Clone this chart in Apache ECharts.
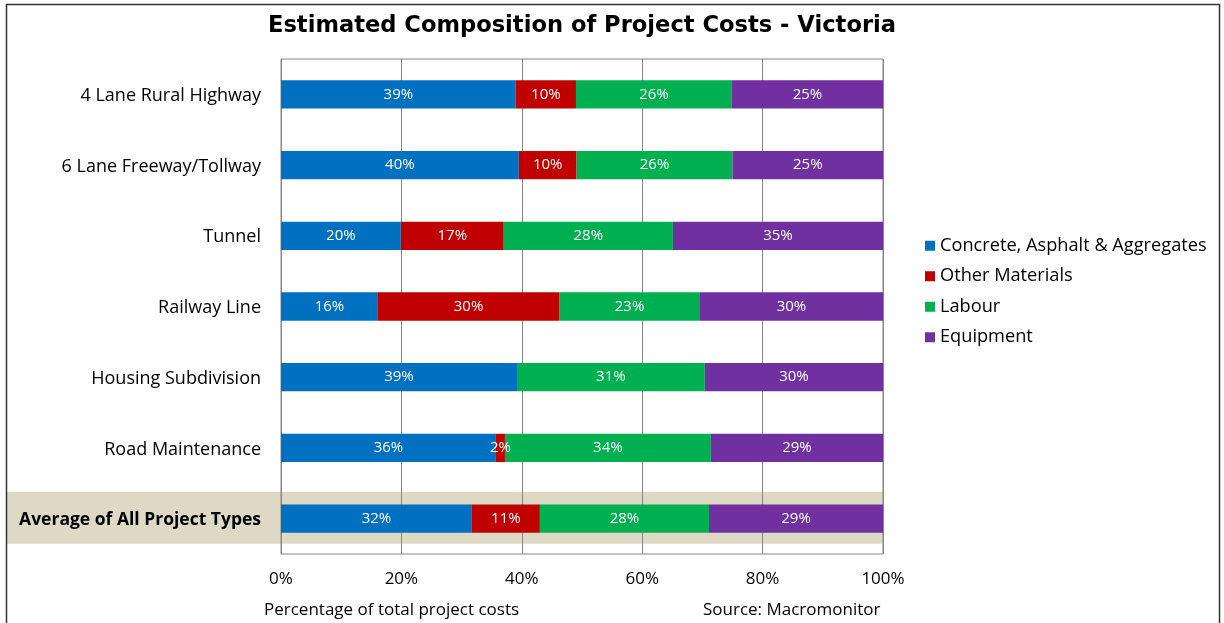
<!DOCTYPE html>
<html><head><meta charset="utf-8">
<script src="https://cdn.jsdelivr.net/npm/echarts@6/dist/echarts.min.js"></script>
<style>html,body{margin:0;padding:0;background:#fff}#c{width:1224px;height:623px}</style>
</head><body><div id="c"></div>
<script>
const categories = ['4 Lane Rural Highway','6 Lane Freeway/Tollway','Tunnel','Railway Line','Housing Subdivision','Road Maintenance','Average of All Project Types'];
const concrete = [39.0, 39.5, 19.9, 16.1, 39.2, 35.7, 31.7];
const otherMaterials = [10.0, 9.6, 17.1, 30.1, 0, 1.5, 11.3];
const labour = [25.9, 25.9, 28.1, 23.4, 31.2, 34.2, 28.1];
const equipment = [25.1, 25.0, 34.9, 30.4, 29.6, 28.6, 28.9];
const seriesNames = ['Concrete, Asphalt & Aggregates','Other Materials','Labour','Equipment'];
const colors = ['#0070c0','#c00000','#00b050','#7030a0'];
const xTicks = [0,20,40,60,80,100];

const FONT = '"Open Sans", "Noto Sans", sans-serif';
const chart = echarts.init(document.getElementById('c'));
const lbl = {
  show: true, position: 'inside', color: '#fff', fontSize: 15, fontFamily: FONT,
  formatter: p => p.value > 0 ? Math.round(p.value) + '%' : ''
};
const mk = (name, data, i) => ({
  name, type: 'bar', stack: 'total', data, barWidth: '40%',
  itemStyle: { color: colors[i] }, label: lbl, z: 3
});
chart.setOption({
  animation: false,
  textStyle: { fontFamily: FONT },
  title: {
    text: 'Estimated Composition of Project Costs - Victoria',
    left: 577, top: 10, textAlign: 'center',
    textStyle: { fontFamily: '"DejaVu Sans", sans-serif', fontWeight: 'bold', fontSize: 22.6, color: '#000' }
  },
  legend: {
    orient: 'vertical', left: 920, top: 231, itemWidth: 10, itemHeight: 10, itemGap: 11,
    icon: 'rect', data: seriesNames,
    textStyle: { fontSize: 18.2, color: '#000', fontFamily: FONT, lineHeight: 19.5 }
  },
  grid: { left: 281, top: 59, width: 602, height: 495, show: true, borderColor: '#868686', borderWidth: 1, backgroundColor: 'transparent' },
  xAxis: {
    type: 'value', min: 0, max: 100, interval: 20,
    axisLine: { show: false }, axisTick: { show: false },
    axisLabel: { formatter: v => xTicks.includes(v) ? v + '%' : '', fontSize: 17, color: '#000', margin: 17, fontFamily: FONT },
    splitLine: { lineStyle: { color: '#868686', width: 1 } }
  },
  yAxis: {
    type: 'category', data: categories, inverse: true,
    axisLine: { lineStyle: { color: '#868686' } },
    axisTick: { length: 8, lineStyle: { color: '#868686' } },
    axisLabel: {
      fontSize: 18, color: '#000', margin: 20, fontFamily: FONT, padding: [3, 0, 0, 0],
      formatter: v => v.startsWith('Average') ? '{b|' + v + '}' : v,
      rich: { b: { fontWeight: 'bold', fontSize: 17.5, color: '#000', fontFamily: FONT } }
    }
  },
  series: [
    mk(seriesNames[0], concrete, 0),
    mk(seriesNames[1], otherMaterials, 1),
    mk(seriesNames[2], labour, 2),
    mk(seriesNames[3], equipment, 3)
  ]
});
const cy = chart.convertToPixel({ yAxisIndex: 0 }, categories[categories.length - 1]);
const xr = chart.convertToPixel({ xAxisIndex: 0 }, 100);
chart.setOption({
  graphic: [
    { type: 'rect', z: -5, silent: true, shape: { x: 7, y: cy - 27, width: xr - 7, height: 52 }, style: { fill: '#ddd9c4' } },
    { type: 'rect', z: 10, silent: true, shape: { x: 6.5, y: 4.5, width: 1213, height: 700 }, style: { fill: 'none', stroke: '#333', lineWidth: 1.5 } },
    { type: 'text', left: 264, top: 602, style: { text: 'Percentage of total project costs', fontSize: 17, fill: '#000', fontFamily: FONT } },
    { type: 'text', left: 703, top: 602, style: { text: 'Source: Macromonitor', fontSize: 17, fill: '#000', fontFamily: FONT } }
  ]
});
</script></body></html>
